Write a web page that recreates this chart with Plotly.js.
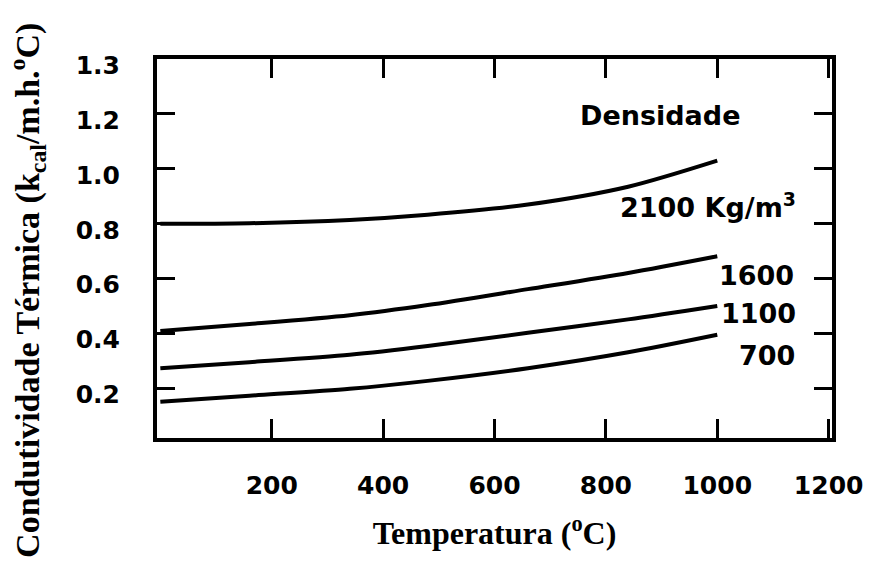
<!DOCTYPE html>
<html>
<head>
<meta charset="utf-8">
<script src="https://cdn.plot.ly/plotly-3.0.1.min.js"></script>
<style>
  html, body { margin: 0; padding: 0; background: #ffffff; }
  #chart { width: 869px; height: 562px; }
</style>
</head>
<body>
<div id="chart"></div>
<script>
// Temperature (°C) at which each curve was sampled
const temperatures = [0, 160, 340, 480, 660, 840, 1000];

// Thermal conductivity (kcal/m.h.°C) for each density
const k2100 = [0.800, 0.802, 0.814, 0.833, 0.870, 0.935, 1.030];
const k1600 = [0.410, 0.435, 0.467, 0.504, 0.562, 0.621, 0.682];
const k1100 = [0.274, 0.296, 0.323, 0.355, 0.403, 0.452, 0.501];
const k700  = [0.152, 0.174, 0.199, 0.228, 0.274, 0.332, 0.396];

// Density labels written next to the curve ends
const densityNames = ['2100 Kg/m<sup>3</sup>', '1600', '1100', '700'];
const legendTitle = 'Densidade';

// Axis ticks
const xTickVals = [200, 400, 600, 800, 1000, 1200];
const xTickText = ['200', '400', '600', '800', '1000', '1200'];
const yTickVals = [0.2, 0.4, 0.6, 0.8, 1.0, 1.2, 1.4];
const yTickText = ['0.2', '0.4', '0.6', '0.8', '1.0', '1.2', '1.3'];

const series = [k2100, k1600, k1100, k700];

const traces = series.map((ys, i) => ({
  type: 'scatter',
  mode: 'lines',
  x: temperatures,
  y: ys,
  name: densityNames[i],
  line: { color: '#000000', width: 4, shape: 'spline', smoothing: 0.8 },
  hoverinfo: 'skip',
  showlegend: false
}));

const tickFont = { family: 'DejaVu Sans, Liberation Sans, sans-serif', size: 25, color: '#000000', weight: 'bold' };
const titleFont = { family: 'Liberation Serif, Times New Roman, serif', size: 32, color: '#000000', weight: 'bold' };
const yTitleFont = { family: 'Liberation Serif, Times New Roman, serif', size: 34, color: '#000000', weight: 'bold' };
const noteFont = { family: 'DejaVu Sans, Liberation Sans, sans-serif', size: 27, color: '#000000', weight: 'bold' };

// Label anchor points for the density names (data coordinates)
const labelX = [984, 1070, 1074, 1090];
const labelY = [0.865, 0.613, 0.475, 0.322];

const annotations = densityNames.map((t, i) => ({
  x: labelX[i], y: labelY[i], xref: 'x', yref: 'y',
  text: t, showarrow: false, font: noteFont,
  xanchor: 'center', yanchor: 'middle'
}));

annotations.push({
  x: 898, y: 1.196, xref: 'x', yref: 'y',
  text: legendTitle, showarrow: false, font: noteFont,
  xanchor: 'center', yanchor: 'middle'
});

// Vertical axis title, placed beside the tick labels
annotations.push({
  x: -0.193, y: 0.39, xref: 'paper', yref: 'paper',
  text: 'Condutividade Térmica (k<sub>cal</sub>/m.h.<sup>o</sup>C)',
  textangle: -90, showarrow: false, font: yTitleFont,
  xanchor: 'center', yanchor: 'middle'
});

const layout = {
  width: 869,
  height: 562,
  margin: { l: 157, r: 37, t: 59, b: 124, pad: 0 },
  paper_bgcolor: '#ffffff',
  plot_bgcolor: '#ffffff',
  showlegend: false,
  xaxis: {
    range: [-6, 1206],
    tickvals: xTickVals,
    ticktext: xTickText,
    ticks: 'inside',
    ticklen: 19,
    tickwidth: 3,
    tickcolor: '#000000',
    ticklabelstandoff: 22,
    tickfont: tickFont,
    showline: true,
    linecolor: '#000000',
    linewidth: 4,
    mirror: 'ticks',
    showgrid: false,
    zeroline: false,
    automargin: false,
    title: { text: 'Temperatura (<sup>o</sup>C)', font: titleFont, standoff: 24 }
  },
  yaxis: {
    range: [0.02, 1.4],
    tickvals: yTickVals,
    ticktext: yTickText,
    ticks: 'inside',
    ticklen: 18,
    tickwidth: 3,
    tickcolor: '#000000',
    ticklabelstandoff: 28,
    ticklabelshift: 6,
    tickfont: tickFont,
    showline: true,
    linecolor: '#000000',
    linewidth: 4,
    mirror: 'ticks',
    showgrid: false,
    zeroline: false,
    automargin: false
  },
  annotations: annotations
};

Plotly.newPlot('chart', traces, layout, { displayModeBar: false, staticPlot: true });
</script>
</body>
</html>
